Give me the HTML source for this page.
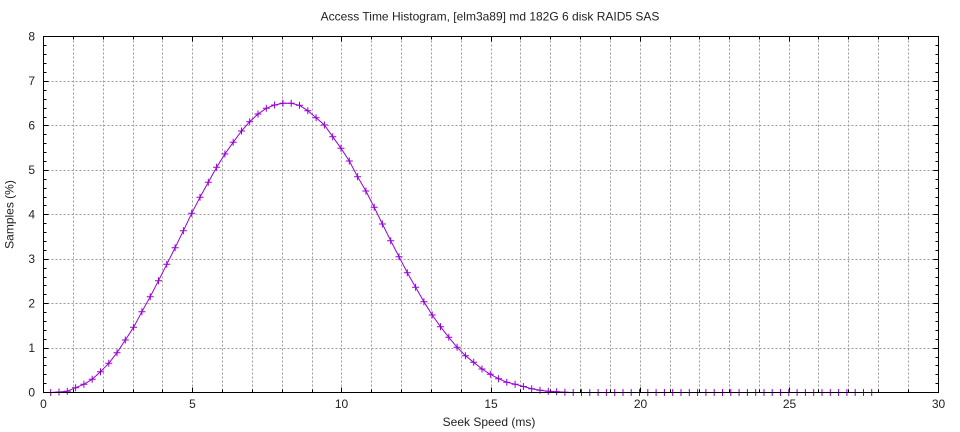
<!DOCTYPE html>
<html>
<head>
<meta charset="utf-8">
<style>
  html, body { margin: 0; padding: 0; background: #fff; }
  svg { display: block; }
  text { font-family: "Liberation Sans", "DejaVu Sans", sans-serif; font-size: 12px; fill: #222; }
</style>
</head>
<body>
<svg width="960" height="432" viewBox="0 0 960 432" xmlns="http://www.w3.org/2000/svg">
  <rect x="0" y="0" width="960" height="432" fill="#fff"/>

  <!-- vertical grid (every 1 ms) -->
  <g stroke="#9a9a9a" stroke-width="1" stroke-dasharray="2,2" shape-rendering="crispEdges" fill="none">
    <path d="M73.5 36.5V392.5 M103.5 36.5V392.5 M133.5 36.5V392.5 M162.5 36.5V392.5 M192.5 36.5V392.5
             M222.5 36.5V392.5 M252.5 36.5V392.5 M282.5 36.5V392.5 M312.5 36.5V392.5 M341.5 36.5V392.5
             M371.5 36.5V392.5 M401.5 36.5V392.5 M431.5 36.5V392.5 M461.5 36.5V392.5 M491.5 36.5V392.5
             M520.5 36.5V392.5 M550.5 36.5V392.5 M580.5 36.5V392.5 M610.5 36.5V392.5 M640.5 36.5V392.5
             M670.5 36.5V392.5 M699.5 36.5V392.5 M729.5 36.5V392.5 M759.5 36.5V392.5 M789.5 36.5V392.5
             M818.5 36.5V392.5 M848.5 36.5V392.5 M878.5 36.5V392.5 M908.5 36.5V392.5"/>
    <!-- horizontal grid (every 1 %) -->
    <path d="M43.5 348.5H938.5 M43.5 303.5H938.5 M43.5 259.5H938.5 M43.5 214.5H938.5
             M43.5 170.5H938.5 M43.5 125.5H938.5 M43.5 81.5H938.5"/>
  </g>

  <!-- ticks -->
  <g stroke="#000" stroke-width="1" shape-rendering="crispEdges" fill="none">
    <!-- x major (bottom & top) -->
    <path d="M43.5 392.5v-5 M192.5 392.5v-5 M341.5 392.5v-5 M491.5 392.5v-5 M640.5 392.5v-5 M789.5 392.5v-5 M938.5 392.5v-5
             M43.5 36.5v5 M192.5 36.5v5 M341.5 36.5v5 M491.5 36.5v5 M640.5 36.5v5 M789.5 36.5v5 M938.5 36.5v5"/>
    <!-- x minor -->
    <path d="M73.5 392.5v-3 M103.5 392.5v-3 M133.5 392.5v-3 M162.5 392.5v-3 M222.5 392.5v-3 M252.5 392.5v-3 M282.5 392.5v-3 M312.5 392.5v-3
             M371.5 392.5v-3 M401.5 392.5v-3 M431.5 392.5v-3 M461.5 392.5v-3 M520.5 392.5v-3 M550.5 392.5v-3 M580.5 392.5v-3 M610.5 392.5v-3
             M670.5 392.5v-3 M699.5 392.5v-3 M729.5 392.5v-3 M759.5 392.5v-3 M818.5 392.5v-3 M848.5 392.5v-3 M878.5 392.5v-3 M908.5 392.5v-3
             M73.5 36.5v3 M103.5 36.5v3 M133.5 36.5v3 M162.5 36.5v3 M222.5 36.5v3 M252.5 36.5v3 M282.5 36.5v3 M312.5 36.5v3
             M371.5 36.5v3 M401.5 36.5v3 M431.5 36.5v3 M461.5 36.5v3 M520.5 36.5v3 M550.5 36.5v3 M580.5 36.5v3 M610.5 36.5v3
             M670.5 36.5v3 M699.5 36.5v3 M729.5 36.5v3 M759.5 36.5v3 M818.5 36.5v3 M848.5 36.5v3 M878.5 36.5v3 M908.5 36.5v3"/>
    <!-- y major -->
    <path d="M43.5 348.5h5 M43.5 303.5h5 M43.5 259.5h5 M43.5 214.5h5 M43.5 170.5h5 M43.5 125.5h5 M43.5 81.5h5
             M938.5 348.5h-5 M938.5 303.5h-5 M938.5 259.5h-5 M938.5 214.5h-5 M938.5 170.5h-5 M938.5 125.5h-5 M938.5 81.5h-5"/>
    <!-- y minor (0.2 steps) -->
    <path d="M43.5 383.5h3 M43.5 374.5h3 M43.5 365.5h3 M43.5 357.5h3
             M43.5 339.5h3 M43.5 330.5h3 M43.5 321.5h3 M43.5 312.5h3
             M43.5 294.5h3 M43.5 285.5h3 M43.5 277.5h3 M43.5 268.5h3
             M43.5 250.5h3 M43.5 241.5h3 M43.5 232.5h3 M43.5 223.5h3
             M43.5 205.5h3 M43.5 197.5h3 M43.5 188.5h3 M43.5 179.5h3
             M43.5 161.5h3 M43.5 152.5h3 M43.5 143.5h3 M43.5 134.5h3
             M43.5 117.5h3 M43.5 108.5h3 M43.5 99.5h3 M43.5 90.5h3
             M43.5 72.5h3 M43.5 63.5h3 M43.5 54.5h3 M43.5 45.5h3
             M938.5 383.5h-3 M938.5 374.5h-3 M938.5 365.5h-3 M938.5 357.5h-3
             M938.5 339.5h-3 M938.5 330.5h-3 M938.5 321.5h-3 M938.5 312.5h-3
             M938.5 294.5h-3 M938.5 285.5h-3 M938.5 277.5h-3 M938.5 268.5h-3
             M938.5 250.5h-3 M938.5 241.5h-3 M938.5 232.5h-3 M938.5 223.5h-3
             M938.5 205.5h-3 M938.5 197.5h-3 M938.5 188.5h-3 M938.5 179.5h-3
             M938.5 161.5h-3 M938.5 152.5h-3 M938.5 143.5h-3 M938.5 134.5h-3
             M938.5 117.5h-3 M938.5 108.5h-3 M938.5 99.5h-3 M938.5 90.5h-3
             M938.5 72.5h-3 M938.5 63.5h-3 M938.5 54.5h-3 M938.5 45.5h-3"/>
  </g>

  <!-- data line -->
  <polyline fill="none" stroke="#9400d3" stroke-width="1" stroke-linejoin="round"
    points="50.7,392.5 59.0,392.0 67.3,391.2 75.6,387.7 83.9,384.3 92.2,379.3 100.5,371.7 108.8,363.3 117.0,352.7 125.3,340.0
            133.6,327.3 141.9,311.7 150.2,296.7 158.5,280.7 166.8,264.3 175.1,247.7 183.4,230.7 191.7,213.3 200.0,197.3 208.3,182.3
            216.6,167.3 224.9,154.0 233.2,142.3 241.5,131.0 249.7,121.7 258.0,114.0 266.3,108.3 274.6,105.0 282.9,103.3 291.2,103.3
            299.5,105.3 307.8,110.7 316.1,117.7 324.4,125.0 332.7,136.7 341.0,148.3 349.3,161.0 357.6,176.7 365.9,191.0 374.2,207.3
            382.4,224.0 390.7,240.7 399.0,256.7 407.3,272.7 415.6,287.3 423.9,301.7 432.2,315.0 440.5,326.7 448.8,337.3 457.1,347.3
            465.4,355.7 473.7,362.3 482.0,369.0 490.3,374.3 498.6,378.7 506.8,382.2 515.1,384.2 523.4,386.5 531.7,388.7 540.0,390.3
            548.3,391.3 556.6,391.7 564.9,392.2 573.2,392.5 871.7,392.5"/>

  <!-- markers -->
  <g id="mk" stroke="#9400d3" stroke-width="1" fill="none">
    <path d="
M47.2 392.5h7M50.7 389v7 M55.5 392.0h7M59.0 388.5v7 M63.8 391.2h7M67.3 387.7v7 M72.1 387.7h7M75.6 384.2v7 M80.4 384.3h7M83.9 380.8v7
M88.7 379.3h7M92.2 375.8v7 M97.0 371.7h7M100.5 368.2v7 M105.3 363.3h7M108.8 359.8v7 M113.5 352.7h7M117.0 349.2v7 M121.8 340.0h7M125.3 336.5v7
M130.1 327.3h7M133.6 323.8v7 M138.4 311.7h7M141.9 308.2v7 M146.7 296.7h7M150.2 293.2v7 M155.0 280.7h7M158.5 277.2v7 M163.3 264.3h7M166.8 260.8v7
M171.6 247.7h7M175.1 244.2v7 M179.9 230.7h7M183.4 227.2v7 M188.2 213.3h7M191.7 209.8v7 M196.5 197.3h7M200.0 193.8v7 M204.8 182.3h7M208.3 178.8v7
M213.1 167.3h7M216.6 163.8v7 M221.4 154.0h7M224.9 150.5v7 M229.7 142.3h7M233.2 138.8v7 M238.0 131.0h7M241.5 127.5v7 M246.2 121.7h7M249.7 118.2v7
M254.5 114.0h7M258.0 110.5v7 M262.8 108.3h7M266.3 104.8v7 M271.1 105.0h7M274.6 101.5v7 M279.4 103.3h7M282.9 99.8v7 M287.7 103.3h7M291.2 99.8v7
M296.0 105.3h7M299.5 101.8v7 M304.3 110.7h7M307.8 107.2v7 M312.6 117.7h7M316.1 114.2v7 M320.9 125.0h7M324.4 121.5v7 M329.2 136.7h7M332.7 133.2v7
M337.5 148.3h7M341.0 144.8v7 M345.8 161.0h7M349.3 157.5v7 M354.1 176.7h7M357.6 173.2v7 M362.4 191.0h7M365.9 187.5v7 M370.7 207.3h7M374.2 203.8v7
M378.9 224.0h7M382.4 220.5v7 M387.2 240.7h7M390.7 237.2v7 M395.5 256.7h7M399.0 253.2v7 M403.8 272.7h7M407.3 269.2v7 M412.1 287.3h7M415.6 283.8v7
M420.4 301.7h7M423.9 298.2v7 M428.7 315.0h7M432.2 311.5v7 M437.0 326.7h7M440.5 323.2v7 M445.3 337.3h7M448.8 333.8v7 M453.6 347.3h7M457.1 343.8v7
M461.9 355.7h7M465.4 352.2v7 M470.2 362.3h7M473.7 358.8v7 M478.5 369.0h7M482.0 365.5v7 M486.8 374.3h7M490.3 370.8v7 M495.1 378.7h7M498.6 375.2v7
M503.3 382.2h7M506.8 378.7v7 M511.6 384.2h7M515.1 380.7v7 M519.9 386.5h7M523.4 383.0v7 M528.2 388.7h7M531.7 385.2v7 M536.5 390.3h7M540.0 386.8v7
M544.8 391.3h7M548.3 387.8v7 M553.1 391.7h7M556.6 388.2v7 M561.4 392.2h7M564.9 388.7v7
M573.2 389v7 M581.5 389v7 M589.8 389v7 M598.1 389v7 M606.4 389v7 M614.7 389v7 M623.0 389v7 M631.2 389v7 M639.5 389v7 M647.8 389v7
M656.1 389v7 M664.4 389v7 M672.7 389v7 M681.0 389v7 M689.3 389v7 M697.6 389v7 M705.9 389v7 M714.2 389v7 M722.5 389v7 M730.8 389v7
M739.1 389v7 M747.4 389v7 M755.7 389v7 M764.0 389v7 M772.2 389v7 M780.5 389v7 M788.8 389v7 M797.1 389v7 M805.4 389v7 M813.7 389v7
M822.0 389v7 M830.3 389v7 M838.6 389v7 M846.9 389v7 M855.2 389v7 M863.5 389v7 M871.7 389v7
M569.7 392.5h305.5"/>
  </g>

  <!-- border -->
  <rect x="43.5" y="36.5" width="895" height="356" fill="none" stroke="#000" stroke-width="1" shape-rendering="crispEdges"/>

  <!-- y tick labels -->
  <g text-anchor="end">
    <text x="35" y="396.5">0</text>
    <text x="35" y="352">1</text>
    <text x="35" y="307.5">2</text>
    <text x="35" y="263">3</text>
    <text x="35" y="218.5">4</text>
    <text x="35" y="174">5</text>
    <text x="35" y="129.5">6</text>
    <text x="35" y="85">7</text>
    <text x="35" y="40.5">8</text>
  </g>

  <!-- x tick labels -->
  <g text-anchor="middle">
    <text x="43.5" y="408">0</text>
    <text x="192.5" y="408">5</text>
    <text x="341.5" y="408">10</text>
    <text x="491" y="408">15</text>
    <text x="640.5" y="408">20</text>
    <text x="789.5" y="408">25</text>
    <text x="938.5" y="408">30</text>
  </g>

  <!-- titles -->
  <text x="490" y="20.5" text-anchor="middle">Access Time Histogram, [elm3a89] md 182G 6 disk RAID5 SAS</text>
  <text x="489" y="426" text-anchor="middle">Seek Speed (ms)</text>
  <text x="0" y="0" text-anchor="middle" transform="translate(13.5,214.5) rotate(-90)">Samples (%)</text>
</svg>
</body>
</html>
